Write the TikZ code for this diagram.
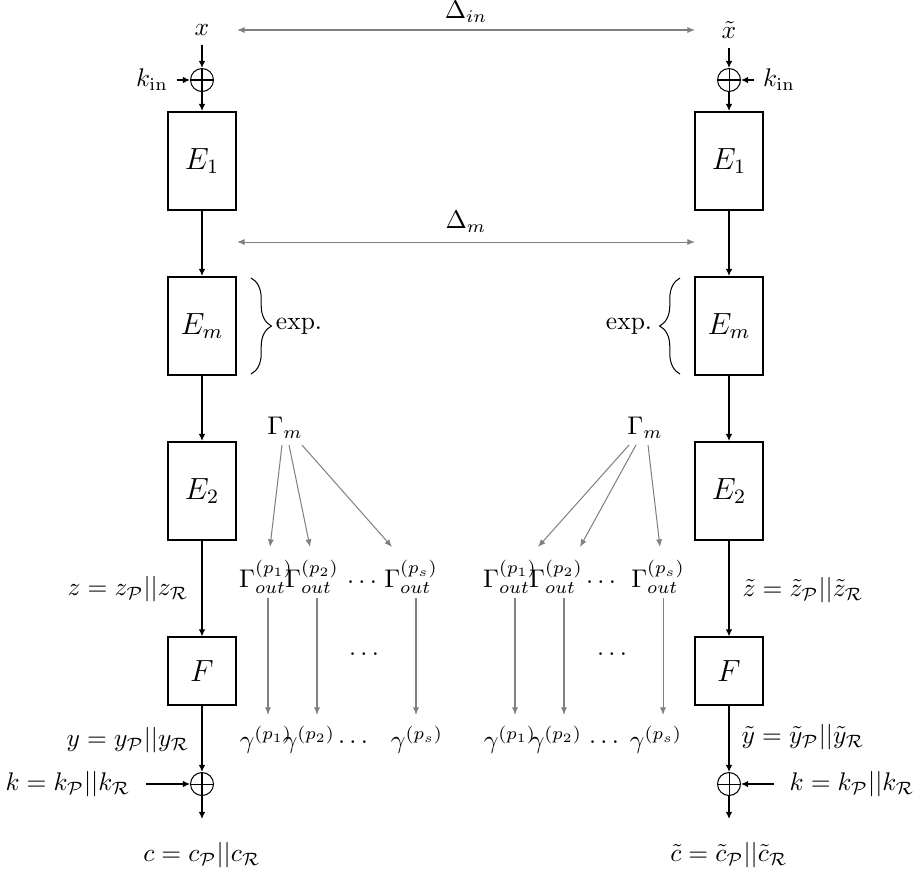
\documentclass[tikz,border=0pt]{standalone}
\usetikzlibrary{arrows.meta,decorations.pathreplacing}
\begin{document}
\begin{tikzpicture}[x=0.392pt,y=-0.392pt,
  blk/.style={draw, line width=0.8pt, minimum width=26.3pt, minimum height=38.4pt, inner sep=0pt, font=\large},
  xorn/.style={circle, draw, line width=0.4pt, inner sep=0pt, minimum size=9pt,
    path picture={\draw[line width=0.4pt] (path picture bounding box.north)--(path picture bounding box.south)
      (path picture bounding box.west)--(path picture bounding box.east);}},
  arr/.style={-{Latex[length=2.8pt,width=2.6pt]}, line width=0.5pt},
  garr/.style={-{Latex[length=3pt,width=2.4pt]}, gray, line width=0.4pt},
  gdbl/.style={{Latex[length=3pt,width=2.4pt]}-{Latex[length=3pt,width=2.4pt]}, gray, line width=0.4pt},
  brc/.style={decorate, decoration={brace, amplitude=8pt}, line width=0.4pt}]
\useasboundingbox (0,0) rectangle (921,874);

% ---------- left branch ----------
\node (x) at (202,30) {$x$};
\node[xorn] (xa) at (202,80) {};
\node (kin) at (152,80) {$k_{\mathrm{in}}$};
\node[blk] (e1) at (202,161) {$E_1$};
\node[blk] (em) at (202,326) {$E_m$};
\node[blk] (e2) at (202,491) {$E_2$};
\node[blk, minimum height=26.3pt] (f) at (202,671) {$F$};
\node[xorn] (xb) at (202,784) {};
\coordinate (cend) at (202,819);
\node (c) at (202,855) {$c = c_{\mathcal{P}}||c_{\mathcal{R}}$};
\node (z) at (128,589) {$z = z_{\mathcal{P}}||z_{\mathcal{R}}$};
\node (y) at (128,740) {$y = y_{\mathcal{P}}||y_{\mathcal{R}}$};
\node[inner sep=6pt] (k) at (68,784) {$k = k_{\mathcal{P}}||k_{\mathcal{R}}$};

\draw[arr] (x) -- (xa);
\draw[arr] (kin) -- (xa);
\draw[arr] (xa) -- (e1);
\draw[arr] (e1) -- (em);
\draw[arr] (em) -- (e2);
\draw[arr] (e2) -- (f);
\draw[arr] (f) -- (xb);
\draw[arr] (k) -- (xb);
\draw[arr] (xb) -- (cend);

\draw[brc] (251,278) -- (251,374);
\node (expl) at (299,326) {exp.};

% ---------- right branch ----------
\node (xt) at (729,30) {$\tilde{x}$};
\node[xorn] (xat) at (729,80) {};
\node (kint) at (779,80) {$k_{\mathrm{in}}$};
\node[blk] (e1t) at (729,161) {$E_1$};
\node[blk] (emt) at (729,326) {$E_m$};
\node[blk] (e2t) at (729,491) {$E_2$};
\node[blk, minimum height=26.3pt] (ft) at (729,671) {$F$};
\node[xorn] (xbt) at (729,784) {};
\coordinate (cendt) at (729,819);
\node (ct) at (729,855) {$\tilde{c} = \tilde{c}_{\mathcal{P}}||\tilde{c}_{\mathcal{R}}$};
\node (zt) at (803,590) {$\tilde{z} = \tilde{z}_{\mathcal{P}}||\tilde{z}_{\mathcal{R}}$};
\node (yt) at (803,737) {$\tilde{y} = \tilde{y}_{\mathcal{P}}||\tilde{y}_{\mathcal{R}}$};
\node[inner sep=6pt] (kt) at (852,784) {$k = k_{\mathcal{P}}||k_{\mathcal{R}}$};

\draw[arr] (xt) -- (xat);
\draw[arr] (kint) -- (xat);
\draw[arr] (xat) -- (e1t);
\draw[arr] (e1t) -- (emt);
\draw[arr] (emt) -- (e2t);
\draw[arr] (e2t) -- (ft);
\draw[arr] (ft) -- (xbt);
\draw[arr] (kt) -- (xbt);
\draw[arr] (xbt) -- (cendt);

\draw[brc] (680,374) -- (680,278);
\node (expr) at (629,326) {exp.};

% ---------- differences ----------
\node (din) at (466,12) {$\Delta_{in}$};
\coordinate (dinl) at (237,30);
\coordinate (dinr) at (695,30);
\draw[gdbl] (dinl) -- (dinr);
\node (dm) at (466,222) {$\Delta_{m}$};
\coordinate (dml) at (237,242);
\coordinate (dmr) at (695,242);
\draw[gdbl] (dml) -- (dmr);

% ---------- left characteristics ----------
\node (gm) at (285,428) {$\Gamma_m$};
\coordinate (gs1) at (282,445); \coordinate (gs2) at (289,445); \coordinate (gs3) at (302,445);
\coordinate (ge1) at (270,547); \coordinate (ge2) at (310,547); \coordinate (ge3) at (392,547);
\draw[garr] (gs1) -- (ge1);
\draw[garr] (gs2) -- (ge2);
\draw[garr] (gs3) -- (ge3);
\node (go1) at (266,577) {$\Gamma_{out}^{(p_1)}$};
\node (go2) at (312,577) {$\Gamma_{out}^{(p_2)}$};
\node (god) at (362,583) {$\cdots$};
\node (go3) at (411,577) {$\Gamma_{out}^{(p_s)}$};
\coordinate (vs1) at (268,598); \coordinate (vs2) at (317,598); \coordinate (vs3) at (416,598);
\coordinate (ve1) at (268,715); \coordinate (ve2) at (317,715); \coordinate (ve3) at (416,715);
\draw[garr] (vs1) -- (ve1);
\draw[garr] (vs2) -- (ve2);
\draw[garr] (vs3) -- (ve3);
\node (mdl) at (364,655) {$\cdots$};
\node (ga1) at (266,740) {$\gamma^{(p_1)}$};
\node (ga2) at (309,740) {$\gamma^{(p_2)}$};
\node (gad) at (353,743) {$\cdots$};
\node (ga3) at (417,740) {$\gamma^{(p_s)}$};

% ---------- right characteristics ----------
\node (gmt) at (645,428) {$\Gamma_m$};
\coordinate (hs1) at (629,445); \coordinate (hs2) at (636,445); \coordinate (hs3) at (648,445);
\coordinate (he1) at (538,547); \coordinate (he2) at (580,547); \coordinate (he3) at (660,547);
\draw[garr] (hs1) -- (he1);
\draw[garr] (hs2) -- (he2);
\draw[garr] (hs3) -- (he3);
\node (ho1) at (510,577) {$\Gamma_{out}^{(p_1)}$};
\node (ho2) at (556,577) {$\Gamma_{out}^{(p_2)}$};
\node (hod) at (601,583) {$\cdots$};
\node (ho3) at (658,577) {$\Gamma_{out}^{(p_s)}$};
\coordinate (ws1) at (515,598); \coordinate (ws2) at (564,598); \coordinate (ws3) at (663,598);
\coordinate (we1) at (515,715); \coordinate (we2) at (564,715); \coordinate (we3) at (663,715);
\draw[garr] (ws1) -- (we1);
\draw[garr] (ws2) -- (we2);
\draw[garr] (ws3) -- (we3);
\node (mdr) at (612,655) {$\cdots$};
\node (hb1) at (510,740) {$\gamma^{(p_1)}$};
\node (hb2) at (556,740) {$\gamma^{(p_2)}$};
\node (hbd) at (604,743) {$\cdots$};
\node (hb3) at (656,740) {$\gamma^{(p_s)}$};
\end{tikzpicture}
\end{document}
